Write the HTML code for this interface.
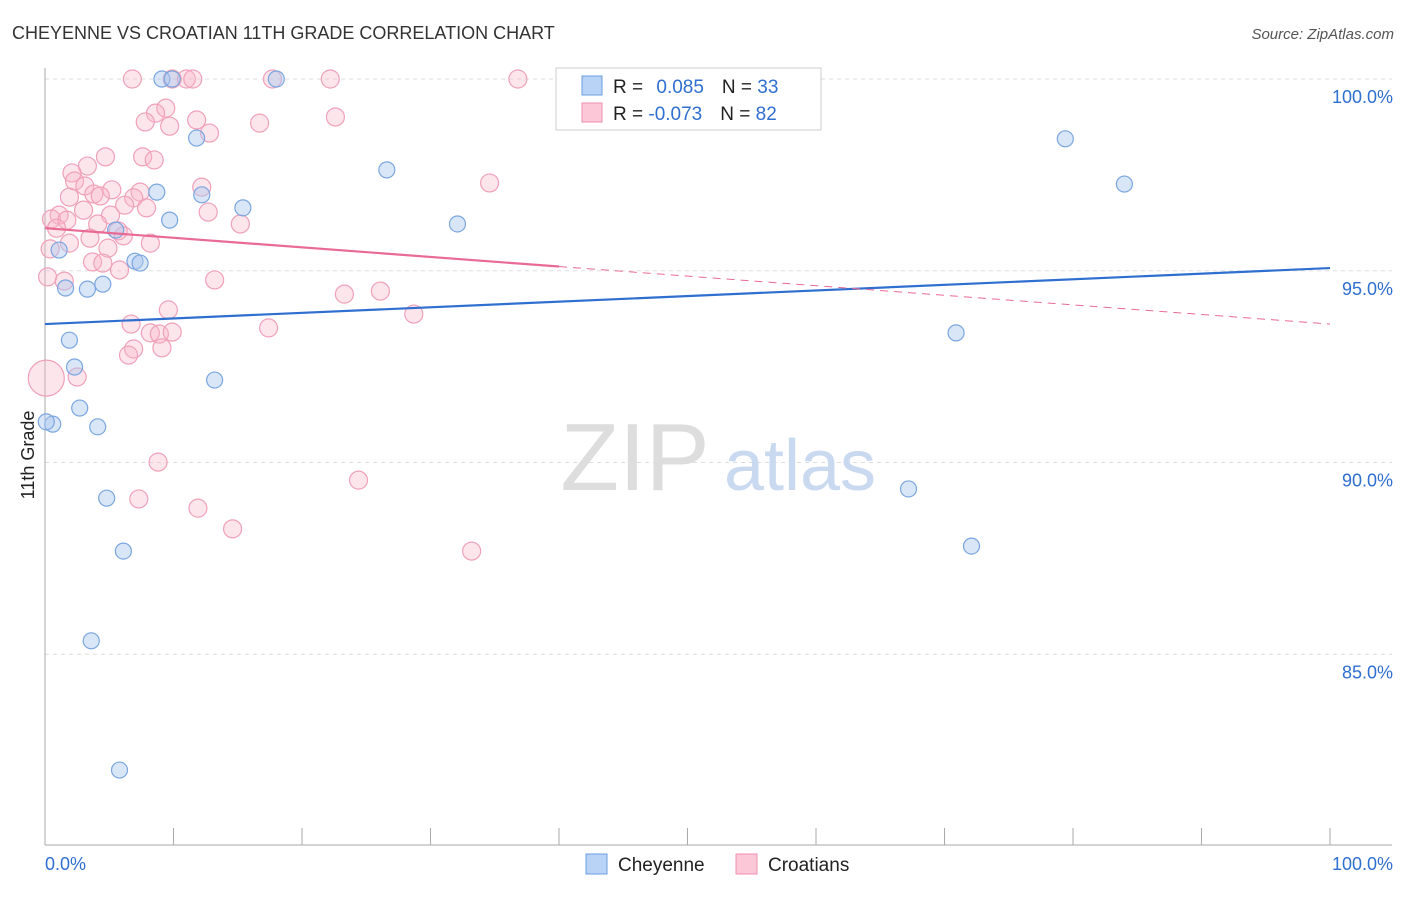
<!DOCTYPE html>
<html><head><meta charset="utf-8"><style>
body{margin:0;background:#fff;font-family:"Liberation Sans",sans-serif;}
svg text{font-family:"Liberation Sans",sans-serif;}
</style></head><body>
<svg width="1406" height="892" viewBox="0 0 1406 892">
<text x="12" y="39" font-size="18" fill="#333">CHEYENNE VS CROATIAN 11TH GRADE CORRELATION CHART</text>
<text x="1394" y="39" font-size="15" fill="#555" font-style="italic" text-anchor="end">Source: ZipAtlas.com</text>
<g id="grid"></g>
<g><text x="635" y="490" font-size="96" font-family="Liberation Serif,serif" fill="#ddd" text-anchor="middle">ZIP</text><text x="800" y="490" font-size="72" fill="#c9d9ef" text-anchor="middle">atlas</text></g>
<g id="axes"></g>
<g id="pts"></g>
<g id="trends"></g>
<text transform="translate(34,455) rotate(-90)" font-size="18" fill="#222" text-anchor="middle">11th Grade</text>
<g>
<rect x="556" y="68" width="265" height="62" fill="#fff" stroke="#ccc"/>
<rect x="582" y="76" width="20" height="19" fill="#b8d3f5" stroke="#6a9de0"/>
<rect x="582" y="103" width="20" height="19" fill="#fcc8d8" stroke="#ee8fae"/>
<text x="613" y="93" font-size="19" fill="#222">R = <tspan fill="#2f6fd0" dx="8">0.085</tspan><tspan dx="18" fill="#222">N = </tspan><tspan fill="#2f6fd0">33</tspan></text>
<text x="613" y="120" font-size="19" fill="#222">R = <tspan fill="#2f6fd0">-0.073</tspan><tspan dx="18" fill="#222">N = </tspan><tspan fill="#2f6fd0">82</tspan></text>
</g>
<g>
<rect x="586" y="854" width="21" height="20" fill="#b8d3f5" stroke="#6a9de0"/>
<text x="618" y="871" font-size="19" fill="#222">Cheyenne</text>
<rect x="736" y="854" width="21" height="20" fill="#fcc8d8" stroke="#ee8fae"/>
<text x="768" y="871" font-size="19" fill="#222">Croatians</text>
</g>
</svg>
<script>
const yTicks=[100,95,90,85];
const yTickLabels=["100.0%","95.0%","90.0%","85.0%"];
const xEndLabels=["0.0%","100.0%"];
const cheyX=[9.1,9.9,18.0,11.8,79.4,84.0,26.6,8.7,12.2,15.4,9.7,32.1,1.1,7.0,7.4,1.6,3.3,4.5,70.9,1.9,2.3,13.2,2.7,0.6,4.1,4.8,67.2,6.1,72.1,3.6,5.8,0.1,5.5];
const cheyY=[100,100,100,98.46,98.44,97.26,97.63,97.05,96.98,96.64,96.32,96.22,95.54,95.25,95.20,94.55,94.52,94.65,93.38,93.19,92.49,92.15,91.42,91.00,90.93,89.07,89.31,87.69,87.82,85.35,81.98,91.06,96.06];
const croX=[6.8,9.9,11.0,11.5,17.7,22.2,36.8,9.4,8.6,7.8,11.8,9.7,12.8,16.7,22.6,4.7,7.6,8.5,3.3,2.1,2.3,3.1,5.2,12.2,34.6,3.8,1.9,7.4,6.9,4.3,1.1,3.0,0.5,1.7,7.9,6.2,5.1,4.1,12.7,15.2,0.9,5.7,3.5,6.1,1.9,8.2,4.9,0.4,3.7,4.5,5.8,0.2,1.5,13.2,23.3,26.1,28.7,6.7,9.6,17.4,8.2,8.9,9.9,6.9,6.5,9.1,2.5,0.1,8.8,24.4,7.3,11.9,14.6,33.2];
const croY=[100,100,100,100,100,100,100,99.24,99.11,98.88,98.93,98.77,98.59,98.85,99.01,97.97,97.97,97.89,97.73,97.55,97.34,97.21,97.11,97.18,97.29,97.00,96.92,97.05,96.90,96.95,96.45,96.58,96.35,96.32,96.64,96.71,96.45,96.22,96.53,96.22,96.11,96.04,95.85,95.91,95.72,95.72,95.59,95.57,95.23,95.20,95.02,94.84,94.73,94.76,94.39,94.47,93.87,93.61,93.98,93.51,93.38,93.35,93.40,92.96,92.80,92.99,92.23,92.20,90.01,89.54,89.05,88.81,88.27,87.69];
const croR=[9,9,9,9,9,9,9,9,9,9,9,9,9,9,9,9,9,9,9,9,9,9,9,9,9,9,9,9,9,9,9,9,9,9,9,9,9,9,9,9,9,9,9,9,9,9,9,9,9,9,9,9,9,9,9,9,9,9,9,9,9,9,9,9,9,9,9,18,9,9,9,9,9,9];
const cheyTrend=[93.61,95.07];
const croTrend=[96.11,93.61];
const croSolidEnd=40;
const NS="http://www.w3.org/2000/svg";
const X=v=>45+v*12.85, Y=v=>79+(100-v)*38.35;
function mk(t,a,p){const e=document.createElementNS(NS,t);for(const k in a)e.setAttribute(k,a[k]);p.appendChild(e);return e;}
const grid=document.getElementById('grid'),axes=document.getElementById('axes'),pts=document.getElementById('pts'),tr=document.getElementById('trends');
yTicks.forEach((v,i)=>{
 const l=mk('line',{x1:45,x2:1392,y1:Y(v),y2:Y(v),stroke:'#ddd','stroke-dasharray':'4,4'},grid);
 
 
 const t=mk('text',{x:1393,y:Y(v)+24,'font-size':18,fill:'#2f6fd0','text-anchor':'end'},axes);
 t.textContent=yTickLabels[i];
 
 
});
mk('line',{x1:45,x2:45,y1:68,y2:845,stroke:'#aaa'},axes);
mk('line',{x1:45,x2:1392,y1:845,y2:845,stroke:'#aaa'},axes);
for(let i=0;i<=10;i++){const tk=mk('line',{x1:X(i*10),x2:X(i*10),y1:828,y2:845,stroke:'#aaa'},axes);
 
 }
[[0,'start',45],[1,'end',1393]].forEach(([i,a,x])=>{const t=mk('text',{x:x,y:870,'font-size':18,fill:'#2f6fd0','text-anchor':a},axes);t.textContent=xEndLabels[i];
 
 });
croX.forEach((v,i)=>{const c=mk('circle',{cx:X(v),cy:Y(croY[i]),r:croR[i],fill:'rgba(248,180,200,0.35)',stroke:'#f0a0ba','stroke-width':1.2},pts);
 
 });
cheyX.forEach((v,i)=>{const c=mk('circle',{cx:X(v),cy:Y(cheyY[i]),r:8,fill:'rgba(170,200,240,0.45)',stroke:'#7aa6e0','stroke-width':1.2},pts);
 
 });
const bl=mk('line',{x1:X(0),y1:Y(cheyTrend[0]),x2:X(100),y2:Y(cheyTrend[1]),stroke:'#2f6fd0','stroke-width':2.2},tr);


const pm=v=>croTrend[0]+(croTrend[1]-croTrend[0])*v/100;
const ps=mk('line',{x1:X(0),y1:Y(pm(0)),x2:X(croSolidEnd),y2:Y(pm(croSolidEnd)),stroke:'#e86a95','stroke-width':2.2},tr);


const pd=mk('line',{x1:X(croSolidEnd),y1:Y(pm(croSolidEnd)),x2:X(100),y2:Y(pm(100)),stroke:'#e86a95','stroke-width':1,'stroke-dasharray':'8,6'},tr);


</script>
</body></html>
